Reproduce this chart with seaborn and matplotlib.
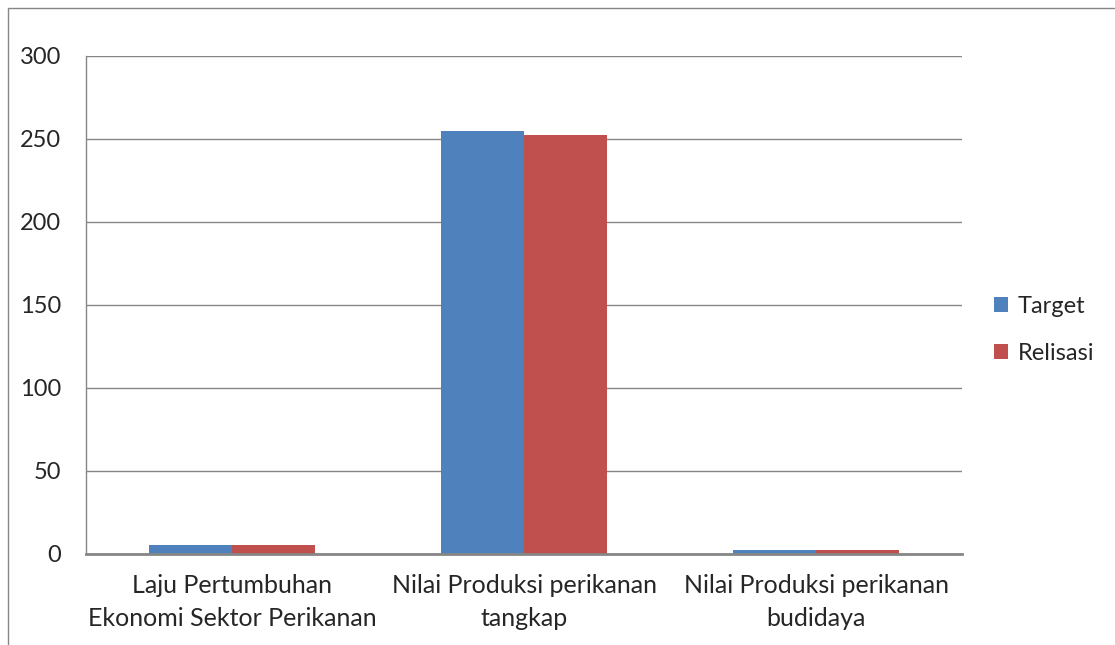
import numpy as np
import matplotlib
matplotlib.use("Agg")
import matplotlib.pyplot as plt
import pandas as pd
import seaborn as sns
from matplotlib.patches import Rectangle

# data
kategori = ["Laju Pertumbuhan\nEkonomi Sektor Perikanan",
            "Nilai Produksi perikanan\ntangkap",
            "Nilai Produksi perikanan\nbudidaya"]
target = [5.1, 255.0, 2.1]
relisasi = [5.1, 252.5, 2.1]
seri = ["Target", "Relisasi"]
yticks = [0, 50, 100, 150, 200, 250, 300]

df = pd.DataFrame({
    "kategori": kategori * 2,
    "nilai": target + relisasi,
    "seri": [seri[0]] * 3 + [seri[1]] * 3,
})

sns.set_style("white")
plt.rcParams["font.family"] = ["Lato", "DejaVu Sans"]
grey = "#868686"

fig = plt.figure(figsize=(11.15, 6.45), dpi=100)
ax = fig.add_axes([86 / 1115, 1 - 553.5 / 645, (962 - 86) / 1115, (553.5 - 56) / 645])

sns.barplot(data=df, x="kategori", y="nilai", hue="seri", ax=ax,
            palette=["#4F81BD", "#C0504D"], saturation=1, width=2 / 3.5,
            linewidth=0, legend=True)

ax.set_ylim(0, 300)
ax.set_xlim(-0.5, 2.5)
ax.set_yticks(yticks)
ax.set_yticklabels([str(v) for v in yticks], fontsize=17)
ax.tick_params(axis="y", length=8, width=1, color=grey, pad=10)
ax.tick_params(axis="x", which="major", length=0, labelsize=18, pad=15)
for t in ax.get_xticklabels():
    t.set_linespacing(1.5)
ax.set_xticks([-0.5, 0.5, 1.5, 2.5], minor=True)
ax.tick_params(axis="x", which="minor", length=9, width=1, color=grey)
ax.set_xlabel("")
ax.set_ylabel("")
ax.grid(axis="y", color=grey, linewidth=1)
ax.set_axisbelow(True)
for s in ["top", "right"]:
    ax.spines[s].set_visible(False)
ax.spines["left"].set_color(grey)
ax.spines["bottom"].set_color(grey)
ax.spines["left"].set_linewidth(1)
ax.spines["bottom"].set_linewidth(2)

h, l = ax.get_legend_handles_labels()
ax.legend(h, l, loc="center left", bbox_to_anchor=(973 / 1115, 1 - 330 / 645),
          bbox_transform=fig.transFigure, frameon=False, fontsize=17,
          handlelength=0.6, handleheight=0.6, handletextpad=0.4, labelspacing=1.1)

# outer frame like the source
fig.patches.append(Rectangle((8 / 1115, -0.5), 2, 0.5 + 1 - 8 / 645,
                             transform=fig.transFigure, fill=False,
                             edgecolor=grey, linewidth=1))

fig.savefig("out.png", dpi=100)
